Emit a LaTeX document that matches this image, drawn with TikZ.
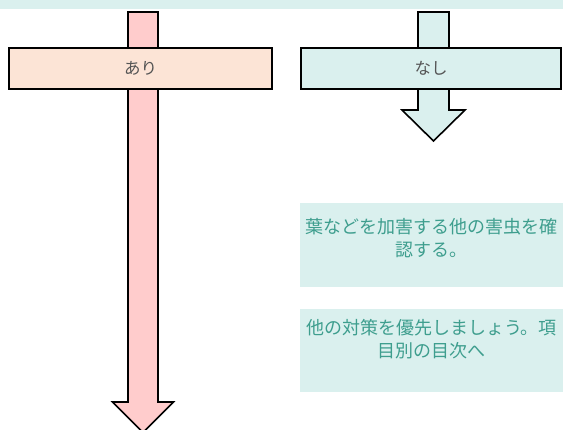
\documentclass[tikz,border=0pt]{standalone}
\usepackage{fontspec}
\newfontfamily\jpfont{Noto Sans CJK JP}
\definecolor{bandcyan}{HTML}{DAF0EE}
\definecolor{peach}{HTML}{FCE4D6}
\definecolor{pinkarrow}{HTML}{FFCCCC}
\definecolor{tealtext}{HTML}{3E9E8E}
\definecolor{graytext}{HTML}{555555}
\begin{document}
\begin{tikzpicture}[x=1pt,y=-1pt,
  arrowshape/.style={draw=black, line width=1.6pt, line join=miter},
  choicebox/.style={draw=black, line width=2.8pt, minimum width=263pt, minimum height=41pt, inner sep=0pt, font=\jpfont\fontsize{16.5}{19}\selectfont, text=graytext},
  infobox/.style={fill=bandcyan, minimum width=263pt, inner sep=0pt},
  infotext/.style={font=\jpfont\fontsize{18}{23}\selectfont, text=tealtext, align=center, inner sep=0pt}
]
\useasboundingbox (0,0) rectangle (563,430);
\clip (0,0) rectangle (563,430);
% top band
\fill[bandcyan] (0,0) rectangle (563,9);
% left arrow
\draw[arrowshape, fill=pinkarrow] (128,12) -- (158,12) -- (158,402) -- (173.5,402) -- (143,432.5) -- (112.5,402) -- (128,402) -- cycle;
% right arrow
\draw[arrowshape, fill=bandcyan] (418,12) -- (449,12) -- (449,110) -- (465,110) -- (433.5,141) -- (402,110) -- (418,110) -- cycle;
% boxes
\node[choicebox, fill=peach] (ari) at (140.5,68.5) {あり};
\node[choicebox, fill=bandcyan, minimum width=260pt] (nashi) at (431,68.5) {なし};
% info boxes
\node[infobox, minimum height=84pt] (info1) at (431.5,245) {};
\node[infotext, anchor=north] (text1) at (431.5,218) {葉などを加害する他の害虫を確\\認する。};
\node[infobox, minimum height=83pt] (info2) at (431.5,350.5) {};
\node[infotext, anchor=north] (text2) at (431.5,319) {他の対策を優先しましょう。項\\目別の目次へ};
\end{tikzpicture}
\end{document}
